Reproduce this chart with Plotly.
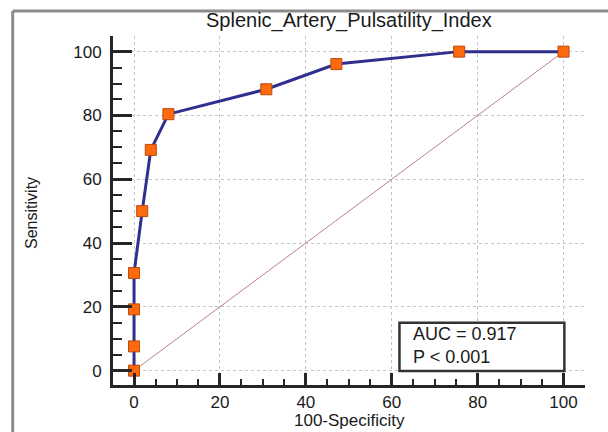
import plotly.graph_objects as go

# ROC curve points
fpr = [0, 0, 0, 0, 1.9, 3.9, 8.0, 30.8, 47.1, 75.7, 100]
sensitivity = [0, 7.6, 19.2, 30.6, 50.0, 69.2, 80.4, 88.2, 96.1, 100, 100]

diag_x = [0, 100]
diag_y = [0, 100]

title_text = "Splenic_Artery_Pulsatility_Index"
x_title = "100-Specificity"
y_title = "Sensitivity"
auc_text = "AUC = 0.917"
p_text = "P &lt; 0.001"

tick_vals = [0, 20, 40, 60, 80, 100]

FONT = "Liberation Sans, Arial, sans-serif"
AXIS_COLOR = "#262626"

fig = go.Figure()

fig.add_trace(go.Scatter(
    x=diag_x, y=diag_y, mode="lines",
    line=dict(color="#b78383", width=1),
    hoverinfo="skip", showlegend=False,
))

fig.add_trace(go.Scatter(
    x=fpr, y=sensitivity, mode="lines+markers",
    line=dict(color="#2f2f8f", width=3),
    marker=dict(symbol="square", size=11, color="#ff6a0d",
                line=dict(color="#b84a10", width=1)),
    showlegend=False,
))

axis_common = dict(
    showline=True, linewidth=3, linecolor=AXIS_COLOR,
    ticks="inside", tickwidth=3, tickcolor=AXIS_COLOR,
    tickvals=tick_vals,
    tickfont=dict(family=FONT, size=17, color="#1a1a1a"),
    showgrid=True, gridcolor="#c4c4c4", gridwidth=1, griddash="dot",
    zeroline=False, mirror=False,
)

fig.update_xaxes(
    **axis_common, range=[-4.9, 105], ticklen=12,
    minor=dict(ticks="inside", dtick=5, tick0=0, ticklen=6, tickwidth=2,
               tickcolor=AXIS_COLOR, showgrid=False),
    ticklabelstandoff=0,
)
fig.update_yaxes(
    **axis_common, range=[-4.5, 104.9], ticklen=19,
    minor=dict(ticks="inside", dtick=5, tick0=0, ticklen=9, tickwidth=2,
               tickcolor=AXIS_COLOR, showgrid=False),
    ticklabelstandoff=5,
)

# Outer frame: only its top and left edges are visible in the picture
FRAME = dict(color="#8c8c8c", width=3)
fig.add_shape(type="line", xref="paper", yref="paper",
              x0=-0.2125, x1=1.2, y0=1.0716, y1=1.0716, line=FRAME, layer="below")
fig.add_shape(type="line", xref="paper", yref="paper",
              x0=-0.2125, x1=-0.2125, y0=-0.3, y1=1.0716, line=FRAME, layer="below")

# AUC box
fig.add_shape(type="rect", xref="x", yref="y",
              x0=61.8, x1=100.2, y0=-0.1, y1=15.0,
              line=dict(color="#333333", width=2.5), fillcolor="white",
              layer="above")
fig.add_annotation(x=64.4, y=8.0, xref="x", yref="y",
                   text=auc_text + "<br>" + p_text, showarrow=False,
                   xanchor="left", yanchor="middle", align="left",
                   font=dict(family=FONT, size=18, color="#1a1a1a"))

# Title and axis titles
fig.add_annotation(x=0.5, y=1.043, xref="paper", yref="paper",
                   text=title_text, showarrow=False,
                   xanchor="center", yanchor="middle",
                   font=dict(family=FONT, size=20, color="#1a1a1a"))
fig.add_annotation(x=0.5, y=-0.103, xref="paper", yref="paper",
                   text=x_title, showarrow=False,
                   xanchor="center", yanchor="middle",
                   font=dict(family=FONT, size=17, color="#1a1a1a"))
fig.add_annotation(x=-0.1716, y=0.493, xref="paper", yref="paper",
                   text=y_title, showarrow=False, textangle=-90,
                   xanchor="center", yanchor="middle",
                   font=dict(family="Liberation Sans Narrow, Liberation Sans, Arial, sans-serif",
                             size=16, color="#1a1a1a"))

fig.update_layout(
    width=608, height=432,
    margin=dict(l=113, r=23, t=36, b=47),
    paper_bgcolor="white", plot_bgcolor="white",
    showlegend=False,
)

# Remove the page's default body margin so the figure fills the window exactly.
fig.write_html(
    "out.html",
    config={"displayModeBar": False},
    post_script="document.body.style.margin='0';document.body.style.overflow='hidden';",
)
